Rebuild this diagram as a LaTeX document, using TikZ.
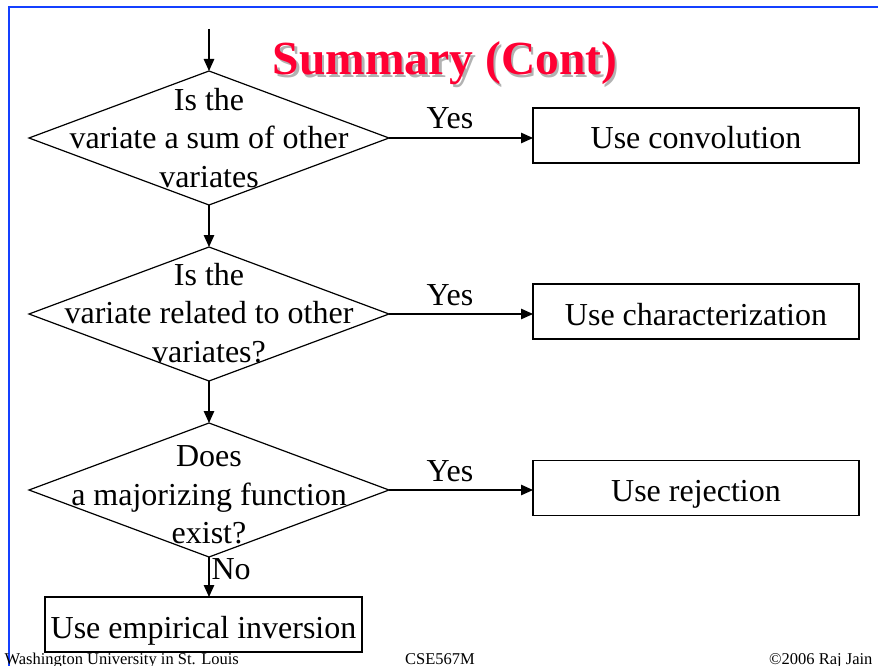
\documentclass[tikz,border=0pt]{standalone}
\usepackage{fontspec}
\setmainfont{Liberation Serif}
\usetikzlibrary{shapes.geometric,arrows.meta}
\definecolor{borderblue}{RGB}{20,64,255}
\definecolor{titlered}{RGB}{255,0,51}
\begin{document}
\begin{tikzpicture}[x=1pt,y=-1pt,
  line width=1.2pt,
  arr/.style={-{Triangle[length=12pt,width=10.5pt]}},
  dia/.style={draw,diamond,minimum width=360pt,minimum height=134pt,inner sep=0pt,outer sep=0pt},
  diatext/.style={align=center,font=\fontsize{32}{38.5}\selectfont,inner sep=0pt},
  box/.style={draw,rectangle,minimum width=326pt,minimum height=55pt,inner sep=0pt,outer sep=0pt,
    text height=27pt,text depth=0pt,font=\fontsize{32}{38}\selectfont},
  lbl/.style={font=\fontsize{32}{38}\selectfont,inner sep=0pt},
  foot/.style={font=\fontsize{16.5}{18}\selectfont,inner sep=0pt,anchor=base}]
\useasboundingbox (0,0) rectangle (878,666);
% border
\draw[borderblue,line width=2.5pt] (9,666) -- (9,7) -- (878,7);
% title
\node[anchor=base,inner sep=0pt,font=\fontsize{47.5}{50}\selectfont\bfseries,text=black!30] (titleshadow) at (447.5,77.5) {Summary (Cont)};
\node[anchor=base,inner sep=0pt,font=\fontsize{47.5}{50}\selectfont\bfseries,text=titlered] (title) at (445,75) {Summary (Cont)};
% diamonds
\node[dia] (d1) at (209,138) {};
\node[dia] (d2) at (209,314) {};
\node[dia] (d3) at (209,490) {};
\node[diatext] (t1) at (209,138) {Is the\\variate a sum of other\\variates};
\node[diatext] (t2) at (209,313) {Is the\\variate related to other\\variates?};
\node[diatext] (t3) at (209,495) {Does\\a majorizing function\\exist?};
% boxes
\node[box] (b1) at (696,135.5) {Use convolution};
\node[box] (b2) at (696,311.5) {Use characterization};
\node[box] (b3) at (696,488) {Use rejection};
\node[box,minimum width=317pt,minimum height=55pt] (e) at (203.5,624.5) {Use empirical inversion};
% start
\coordinate (start) at (209,29);
\draw[arr] (start) -- (d1.north);
\draw[arr] (d1.south) -- (d2.north);
\draw[arr] (d2.south) -- (d3.north);
\draw[arr] (d3.south) -- (d3.south |- e.north);
\draw[arr] (d1.east) -- (d1.east -| b1.west);
\draw[arr] (d2.east) -- (d2.east -| b2.west);
\draw[arr] (d3.east) -- (d3.east -| b3.west);
% labels
\node[lbl,anchor=base] (y1) at (450,129) {Yes};
\node[lbl,anchor=base] (y2) at (450,305) {Yes};
\node[lbl,anchor=base] (y3) at (450,481) {Yes};
\node[lbl,anchor=base west] (no) at (211,579) {No};
% footer
\node[foot,anchor=base west] (f1) at (4,664) {Washington University in St. Louis};
\node[foot] (f2) at (440,664) {CSE567M};
\node[foot,anchor=base east] (f3) at (873,664) {©2006 Raj Jain};
\end{tikzpicture}
\end{document}
